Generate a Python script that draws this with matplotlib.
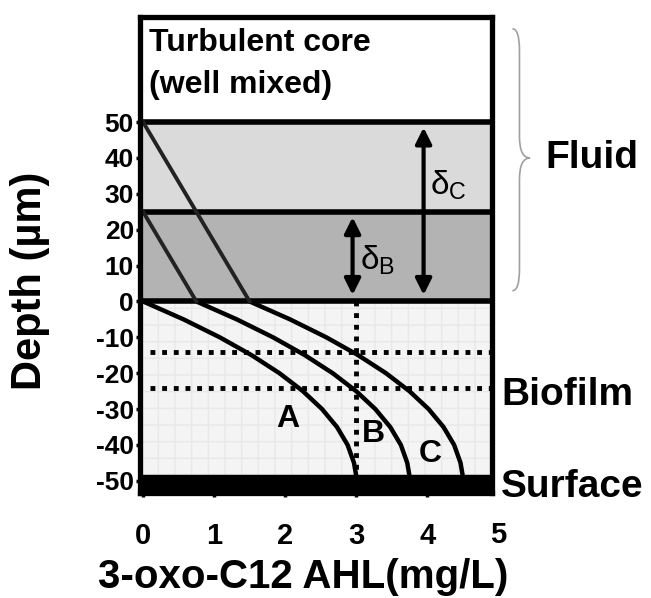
# Concentration profiles of 3-oxo-C12 AHL across fluid boundary layer and biofilm

from matplotlib import pyplot as plt
from matplotlib.path import Path
from matplotlib.patches import PathPatch
import matplotlib.transforms as mtransforms

plt.rcParams['font.family'] = ['Liberation Sans', 'DejaVu Sans']
plt.rcParams['font.weight'] = 'bold'
plt.rcParams['mathtext.fontset'] = 'custom'
plt.rcParams['mathtext.rm'] = 'Liberation Sans:weight=normal'
plt.rcParams['mathtext.it'] = 'Liberation Sans:weight=normal'
plt.rcParams['mathtext.default'] = 'rm'

# depth inside the biofilm (um)
depth = [0, -5, -10, -15, -20, -25, -30, -35, -40, -45, -48.5]
conc_A = [0, 0.57, 1.08, 1.53, 1.92, 2.25, 2.52, 2.73, 2.88, 2.97, 3.0]
conc_B = [0.75, 1.32, 1.83, 2.28, 2.67, 3.0, 3.27, 3.48, 3.63, 3.72, 3.75]
conc_C = [1.5, 2.07, 2.58, 3.03, 3.42, 3.75, 4.02, 4.23, 4.38, 4.47, 4.5]

# straight parts in the boundary layer
fluid_B_x = [0, 0.75]
fluid_B_y = [25, 0]
fluid_C_x = [0, 1.5]
fluid_C_y = [50, 0]

layer_B = 25    # delta_B
layer_C = 50    # delta_C
surface = -48.5
dotted_y = [-14, -24]
dotted_x = 3

yticks = [50, 40, 30, 20, 10, 0, -10, -20, -30, -40, -50]
ytick_labels = ['50', '40', '30', '20', '10', '0', '-10', '-20', '-30', '-40', '-50']
xticks = [0, 1, 2, 3, 4]

fig = plt.figure(figsize=(6.51, 5.98), dpi=100)
ax = fig.add_axes([0.2143, 0.1756, 0.5422, 0.796])
ax.set_xlim(-0.05, 4.92)
ax.set_ylim(-53.4, 79.3)

# background layers
ax.axhspan(layer_B, layer_C, color='#dadada', zorder=0)
ax.axhspan(0, layer_B, color='#b3b3b3', zorder=0)
ax.axhspan(surface, 0, facecolor='#f4f4f4', edgecolor='#e8e8e8', hatch='+',
           linewidth=0, zorder=0)
ax.axhspan(-60, surface, color='black', zorder=3)
for y in [layer_C, layer_B, 0]:
    ax.axhline(y, color='black', lw=4, zorder=4)

# dotted guides
for y in dotted_y:
    ax.plot([0.1, 4.9], [y, y], color='black', lw=3.5, linestyle=(0, (1, 1.4)),
            dash_capstyle='butt', zorder=2)
ax.plot([dotted_x, dotted_x], [0, surface], color='black', lw=3.5,
        linestyle=(0, (1, 1.4)), dash_capstyle='butt', zorder=2)

# profiles
ax.plot(conc_A, depth, color='black', lw=3.2, zorder=5)
ax.plot(conc_B, depth, color='black', lw=3.2, zorder=5)
ax.plot(conc_C, depth, color='black', lw=3.2, zorder=5)
ax.plot(fluid_B_x, fluid_B_y, color='#222222', lw=2.8, zorder=5)
ax.plot(fluid_C_x, fluid_C_y, color='#222222', lw=2.8, zorder=5)

ax.text(2.04, -32.7, 'A', fontsize=23, ha='center', va='center', zorder=6)
ax.text(3.24, -36.9, 'B', fontsize=23, ha='center', va='center', zorder=6)
ax.text(4.04, -42.5, 'C', fontsize=23, ha='center', va='center', zorder=6)

# boundary layer thickness arrows
arrow = dict(arrowstyle='<|-|>', color='black', lw=3, mutation_scale=24,
             shrinkA=0, shrinkB=0)
ax.annotate('', xy=(3.95, 48.5), xytext=(3.95, 1.8), arrowprops=arrow, zorder=6)
ax.annotate('', xy=(2.95, 23.5), xytext=(2.95, 1.8), arrowprops=arrow, zorder=6)
ax.text(4.3, 32.5, r'$\delta_{C}$', fontsize=24, fontweight='normal',
        ha='center', va='center')
ax.text(3.3, 11.5, r'$\delta_{B}$', fontsize=24, fontweight='normal',
        ha='center', va='center')

ax.text(0.08, 72, 'Turbulent core', fontsize=23, ha='left', va='center')
ax.text(0.08, 60.3, '(well mixed)', fontsize=23, ha='left', va='center')

# right side labels
ax.text(5.67, 40, 'Fluid', fontsize=28, ha='left', va='center', clip_on=False)
ax.text(5.04, -26, 'Biofilm', fontsize=28, ha='left', va='center', clip_on=False)
ax.text(5.04, -51.7, 'Surface', fontsize=28, ha='left', va='center', clip_on=False)

# curly brace for the fluid part
bx0, bx1, bx2 = 5.2, 5.3, 5.45
yt, ym, yb = 76, 40, 3
verts = [(bx0, yt), (bx1, yt), (bx1, yt - 6),
         (bx1, ym + 6),
         (bx1, ym), (bx2, ym),
         (bx1, ym), (bx1, ym - 6),
         (bx1, yb + 6),
         (bx1, yb), (bx0, yb)]
codes = [Path.MOVETO, Path.CURVE3, Path.CURVE3,
         Path.LINETO,
         Path.CURVE3, Path.CURVE3,
         Path.CURVE3, Path.CURVE3,
         Path.LINETO,
         Path.CURVE3, Path.CURVE3]
ax.add_patch(PathPatch(Path(verts, codes), facecolor='none', edgecolor='#a0a0a0',
                       lw=1.2, clip_on=False))

# axes styling
for s in ax.spines.values():
    s.set_linewidth(3.8)
    s.set_zorder(7)
ax.set_yticks(yticks)
ax.set_yticklabels(ytick_labels)
ax.set_xticks(xticks)
ax.set_xticklabels([str(v) for v in xticks])
ax.tick_params(axis='y', direction='out', length=3, width=2.5, pad=1, labelsize=19)
ax.tick_params(axis='x', direction='out', length=3, width=2.5, pad=18, labelsize=21)
for lab in ax.get_xticklabels() + ax.get_yticklabels():
    lab.set_fontweight('bold')
# the "5" label sits just outside the right border
trans = mtransforms.blended_transform_factory(ax.transData, ax.transAxes)
ax.text(5, -0.088, '5', transform=trans, fontsize=21, ha='center', va='center',
        clip_on=False)

fig.text(30 / 651, 1 - 281 / 598, 'Depth (µm)', rotation=90, fontsize=30,
         ha='center', va='center')
fig.text(303 / 651, 1 - 577 / 598, '3-oxo-C12 AHL(mg/L)', fontsize=29,
         ha='center', va='center')

fig.savefig('out.png', dpi=100)
